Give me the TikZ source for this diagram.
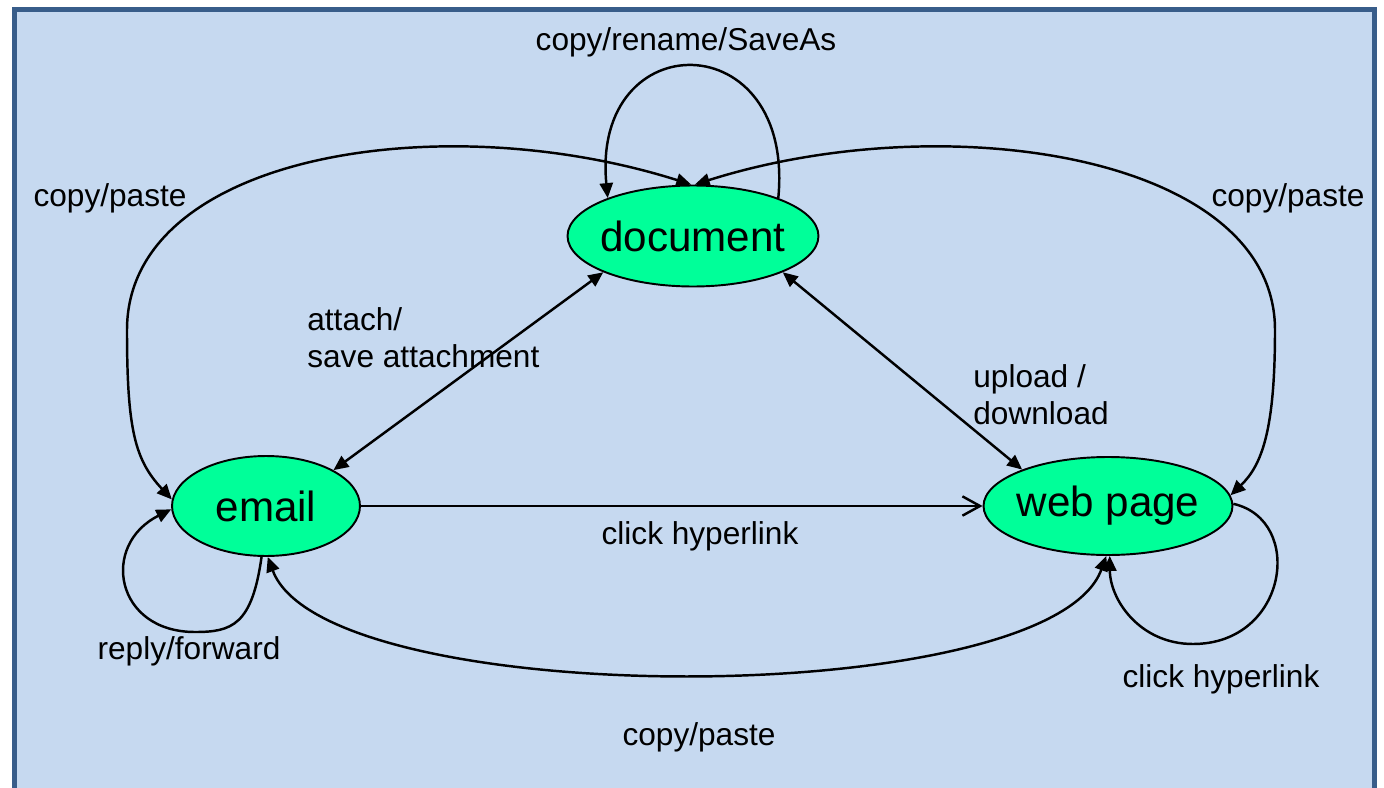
\documentclass[tikz,border=0pt]{standalone}
\usepackage{fontspec}
\setmainfont{Liberation Sans}
\usetikzlibrary{shapes.geometric,arrows.meta}
\definecolor{slidebg}{RGB}{198,217,240}
\definecolor{slideframe}{RGB}{56,93,138}
\definecolor{statefill}{RGB}{0,255,153}

\begin{document}
\begin{tikzpicture}[x=0.02cm,y=-0.02cm,
    state/.style={ellipse,draw,line width=1.1pt,fill=statefill,inner sep=0pt,inner xsep=-3pt,font=\fontsize{24}{28}\selectfont},
    lbl/.style={inner sep=0pt,font=\fontsize{18}{21}\selectfont},
    link/.style={line width=1.4pt},
    >={Triangle[length=8.5pt,width=7.5pt]}]
  \useasboundingbox (0,0) rectangle (1384,788);
  \draw[slideframe,fill=slidebg,line width=2.8pt] (14.5,800) -- (14.5,9.5) -- (1374.5,9.5) -- (1374.5,800);

  % the three states
  \node[state,minimum width=5.02cm,minimum height=2.02cm] (doc) at (693,236) {document};
  \node[state,minimum width=3.76cm,minimum height=2cm] (email) at (266,506) {email};
  \node[state,minimum width=4.98cm,minimum height=1.96cm] (web) at (1108,506) {web page};

  % transitions
  \draw[link,->] (doc.24) .. controls (795,23) and (591,23) .. (doc.156);
  \draw[link,<->] (email.176) .. controls (135,460) and (127,430) .. (127,330)
    .. controls (127,155) and (440,105) .. (doc.92);
  \draw[link,<->] (doc.88) .. controls (946,105) and (1275,155) .. (1275,330)
    .. controls (1275,430) and (1262,465) .. (web.5);
  \draw[link,<->] (email.28) -- (doc.202);
  \draw[link,<->] (doc.-22) -- (web.157);
  \draw[link,-{Straight Barb[length=10pt,width=11pt]}] (email.east) -- (web.west);
  \draw[link,<->] (email.272) .. controls (325,712) and (1050,712) .. (web.268);
  \draw[link,->] (email.265) .. controls (252,625) and (232,632) .. (195,632)
    .. controls (115,632) and (100,545) .. (email.182);
  \draw[link,->] (web.1) .. controls (1305,520) and (1288,644) .. (1193,644)
    .. controls (1140,644) and (1110,600) .. (web.272);

  % labels
  \node[lbl] (lsave) at (686,42) {copy/rename/SaveAs};
  \node[lbl] (lcopyl) at (110,198) {copy/paste};
  \node[lbl] (lcopyr) at (1288,198) {copy/paste};
  \node[lbl,align=left,anchor=north west] (lattach) at (307,307) {attach/\\save attachment};
  \node[lbl,align=left,anchor=north west] (lupload) at (973,364) {upload /\\download};
  \node[lbl] (lclick) at (700,536) {click hyperlink};
  \node[lbl] (lreply) at (189,651) {reply/forward};
  \node[lbl] (lclickw) at (1221,679) {click hyperlink};
  \node[lbl] (lcopyb) at (699,737) {copy/paste};
\end{tikzpicture}
\end{document}
